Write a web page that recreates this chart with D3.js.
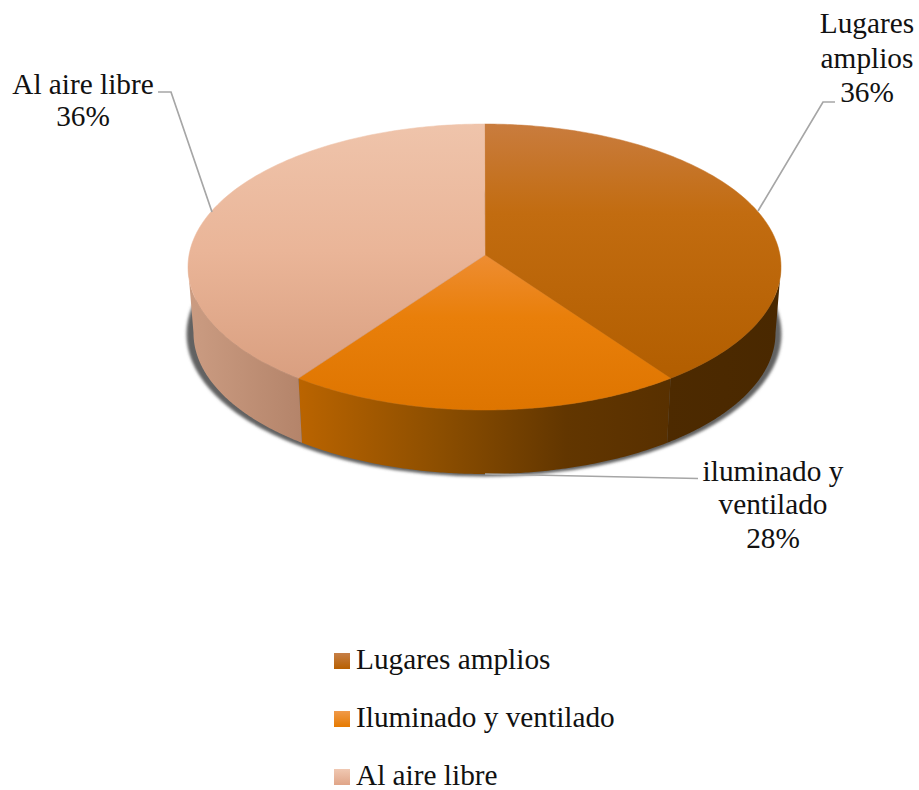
<!DOCTYPE html>
<html><head><meta charset="utf-8">
<script src="https://cdn.jsdelivr.net/npm/d3@7"></script>
<style>html,body{margin:0;background:#fff;overflow:hidden}text{font-family:"Liberation Serif",serif;font-size:29.3px;fill:#111}</style>
</head><body><svg id="c" width="919" height="790"></svg>
<script>
const categories = ["Lugares amplios", "Iluminado y ventilado", "Al aire libre"];
const values = [36, 28, 36];
const pointLabels = [["Lugares", "amplios", "36%"], ["iluminado y", "ventilado", "28%"], ["Al aire libre", "36%"]];

const topStops = [
  [[0, "#c97c3e"], [0.35, "#c26c10"], [1, "#b25e00"]],
  [[0, "#ee8d32"], [0.4, "#e97f0a"], [1, "#de7500"]],
  [[0, "#efc4ab"], [0.5, "#eab598"], [1, "#d99f80"]]
];
const wallStops = [
  [[0, "#4d2a00"], [1, "#492800"]],
  [[0, "#ba6400"], [0.38, "#8c4e00"], [0.72, "#623600"], [1, "#583000"]],
  [[0, "#cb9c82"], [1, "#b4846a"]]
];
const legendStops = [
  [[0, "#c67f47"], [1, "#b86000"]],
  [[0, "#f09a4a"], [1, "#e67a00"]],
  [[0, "#f0c8b2"], [1, "#e0a588"]]
];

const svg = d3.select("#c");
const defs = svg.append("defs");
function grad(id, stops, horizontal, a, b) {
  const g = defs.append("linearGradient").attr("id", id).attr("gradientUnits", "userSpaceOnUse");
  if (horizontal) g.attr("x1", a).attr("x2", b).attr("y1", 0).attr("y2", 0);
  else g.attr("x1", 0).attr("x2", 0).attr("y1", a).attr("y2", b);
  stops.forEach(s => g.append("stop").attr("offset", s[0]).attr("stop-color", s[1]));
}
defs.append("filter").attr("id", "blur").attr("x", "-5%").attr("y", "-5%").attr("width", "110%").attr("height", "110%")
  .append("feGaussianBlur").attr("stdDeviation", 1.6);

const pie = d3.pie().sort(null).value(d => d);
const arcs = pie(values);

// Chart-engine foreshortening: pie angle -> angle on the drawn ellipse
const warp = t => t - 0.205 * Math.sin(2 * t);
const topE = {cx: 484.5, cy: 267, rx: 296.5, ry: 143};
const botE = {cx: 484.5, cy: 333, rx: 291, ry: 141};
const apex = [485, 255];
const onE = (e, t) => { const p = warp(t); return [e.cx + e.rx * Math.sin(p), e.cy - e.ry * Math.cos(p)]; };
const line = d3.line();
const samples = (e, a, b) => d3.range(0, 121).map(i => onE(e, a + (b - a) * i / 120));

// Shadow
svg.append("ellipse").attr("cx", 484).attr("cy", 334).attr("rx", 297.5).attr("ry", 142.5)
  .attr("fill", "#626262").attr("filter", "url(#blur)");

// Walls (only the front half of the rim is visible)
const PI = Math.PI;
arcs.forEach((d, i) => {
  const a = Math.max(d.startAngle, PI / 2), b = Math.min(d.endAngle, 3 * PI / 2);
  if (b <= a) return;
  const front = samples(topE, a, b), back = samples(botE, a, b).reverse();
  const xs = front.concat(back).map(p => p[0]);
  grad("wall" + i, wallStops[i], true, d3.min(xs), d3.max(xs));
  svg.append("path").attr("d", line(front.concat(back)) + "Z").attr("fill", `url(#wall${i})`);
});

// Top faces
arcs.forEach((d, i) => {
  const rim = samples(topE, d.startAngle, d.endAngle);
  const ys = rim.map(p => p[1]).concat(apex[1]);
  grad("top" + i, topStops[i], false, d3.min(ys), d3.max(ys));
  svg.append("path").attr("d", line([apex].concat(rim)) + "Z").attr("fill", `url(#top${i})`)
    .attr("stroke", `url(#top${i})`).attr("stroke-width", 0.5);
});

// Leader lines
const leaders = [
  [[758, 211], [823, 102], [835, 102]],
  [[485, 474], [698, 478.5]],
  [[212, 212], [171, 92], [158, 92]]
];
leaders.forEach(l => svg.append("path").attr("d", line(l)).attr("fill", "none").attr("stroke", "#a6a6a6").attr("stroke-width", 1.7));

// Data labels
const labelX = [867, 773, 83];
const labelY = [[33, 68, 102], [480.5, 513.5, 547.5], [94, 126]];
pointLabels.forEach((lines, i) => lines.forEach((t, j) =>
  svg.append("text").attr("x", labelX[i]).attr("y", labelY[i][j]).attr("text-anchor", "middle").text(t)));

// Legend
const legendY = d3.scalePoint().domain(categories).range([653, 769]);
categories.forEach((c, i) => {
  const y = legendY(c);
  grad("leg" + i, legendStops[i], false, y, y + 16);
  svg.append("rect").attr("x", 334).attr("y", y).attr("width", 16).attr("height", 16).attr("fill", `url(#leg${i})`);
  svg.append("text").attr("x", 356).attr("y", y + 16).text(c);
});
</script></body></html>
